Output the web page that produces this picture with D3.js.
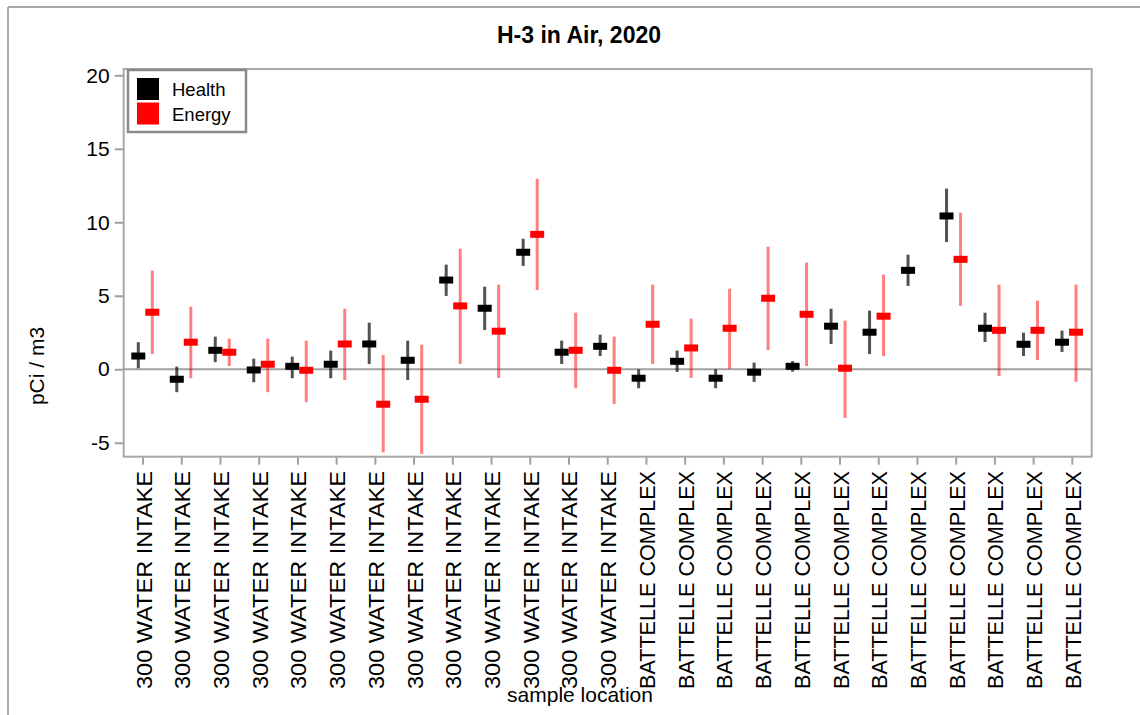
<html>
<head>
  <title>H-3 in Air, 2020</title>
  <script type="text/javascript" src="https://cdn.jsdelivr.net/npm/d3@7/dist/d3.min.js"></script>
<style type="text/css">
body { margin: 0; background: #fff; }
text { font-family: Arial, 'Liberation Sans', sans-serif; fill: #000; }
</style>
</head>
<body>
<script type="text/javascript">
// sample locations, one per column (13 + 12)
var locations = [
  '300 WATER INTAKE', '300 WATER INTAKE', '300 WATER INTAKE', '300 WATER INTAKE',
  '300 WATER INTAKE', '300 WATER INTAKE', '300 WATER INTAKE', '300 WATER INTAKE',
  '300 WATER INTAKE', '300 WATER INTAKE', '300 WATER INTAKE', '300 WATER INTAKE',
  '300 WATER INTAKE',
  'BATTELLE COMPLEX', 'BATTELLE COMPLEX', 'BATTELLE COMPLEX', 'BATTELLE COMPLEX',
  'BATTELLE COMPLEX', 'BATTELLE COMPLEX', 'BATTELLE COMPLEX', 'BATTELLE COMPLEX',
  'BATTELLE COMPLEX', 'BATTELLE COMPLEX', 'BATTELLE COMPLEX', 'BATTELLE COMPLEX'
];

// Health (black) result and its error range
var healthValue = [0.90, -0.68, 1.29, -0.05, 0.20, 0.34, 1.72, 0.61, 6.07, 4.15, 7.96, 1.16, 1.56,
                   -0.61, 0.54, -0.61, -0.20, 0.20, 2.93, 2.52, 6.73, 10.43, 2.79, 1.70, 1.84];
var healthLow   = [0.07, -1.56, 0.48, -0.88, -0.61, -0.61, 0.36, -0.73, 4.99, 2.67, 7.03, 0.36, 0.90,
                   -1.29, -0.18, -1.29, -0.86, -0.16, 1.72, 1.04, 5.67, 8.66, 1.86, 0.90, 1.18];
var healthHigh  = [1.84, 0.18, 2.22, 0.72, 0.86, 1.27, 3.17, 1.95, 7.12, 5.62, 8.88, 1.95, 2.35,
                   0.00, 1.27, 0.00, 0.45, 0.56, 4.12, 3.99, 7.80, 12.29, 3.85, 2.49, 2.63];

// Energy (red) result and its error range, null = no sample
var energyValue = [3.88, 1.84, 1.16, 0.34, -0.07, 1.72, -2.38, -2.04, 4.31, 2.59, 9.18, 1.29, -0.07,
                   3.06, 1.45, 2.79, 4.83, 3.74, 0.07, 3.61, null, 7.48, 2.65, 2.65, 2.52];
var energyLow   = [1.04, -0.61, 0.22, -1.56, -2.24, -0.73, -5.65, -5.76, 0.36, -0.59, 5.39, -1.29, -2.36,
                   0.36, -0.59, 0.02, 1.31, 0.22, -3.31, 0.90, null, 4.31, -0.46, 0.63, -0.86];
var energyHigh  = [6.71, 4.26, 2.08, 2.08, 1.95, 4.12, 0.97, 1.67, 8.20, 5.76, 12.97, 3.85, 2.22,
                   5.76, 3.44, 5.48, 8.34, 7.25, 3.31, 6.44, null, 10.65, 5.76, 4.67, 5.76];

var yTicks = [-5, 0, 5, 10, 15, 20];
var seriesNames = ['Health', 'Energy'];
var seriesColors = ['#000000', '#ff0000'];

var w = 1140, h = 715;
// note: "top" is taken by window.top, so plot edges get their own names
var plotL = 123.7, plotR = 1091.7, plotT = 69, plotB = 456.7;

var svg = d3.select('body').append('svg')
  .attr('width', w)
  .attr('height', h);

// outer frame (only left and top edges are in view)
svg.append('line').attr('x1', 8).attr('y1', 7).attr('x2', w).attr('y2', 7)
  .attr('stroke', '#a8a8a8').attr('stroke-width', 2);
svg.append('line').attr('x1', 8).attr('y1', 7).attr('x2', 8).attr('y2', h)
  .attr('stroke', '#a8a8a8').attr('stroke-width', 2);

var idx = d3.range(locations.length);

var x = d3.scaleBand().domain(idx).range([plotL, plotR]);
// the marks sit on a slightly narrower grid than the ticks
var xm = d3.scalePoint().domain(idx).range([145.3, 1069]);
var y = d3.scaleLinear().domain([-5.95, 20.43]).range([plotB, plotT]);

// y axis
var yAxis = svg.append('g')
  .attr('transform', 'translate(' + plotL + ',0)')
  .call(d3.axisLeft(y).tickValues(yTicks).tickSize(9).tickPadding(5)
    .tickFormat(function(d) { return String(d); }));
yAxis.select('.domain').remove();
yAxis.selectAll('line').attr('stroke', '#a0a0a0').attr('stroke-width', 2);
yAxis.selectAll('text').style('font-size', '21px').attr('fill', '#000');

// x axis
var xAxis = svg.append('g')
  .attr('transform', 'translate(0,' + plotB + ')')
  .call(d3.axisBottom(x).tickSize(8).tickFormat(''));
xAxis.select('.domain').remove();
xAxis.selectAll('line').attr('stroke', '#a0a0a0').attr('stroke-width', 2);

// rotated location labels, all stretched to the same length like the original
svg.append('g').selectAll('text')
  .data(idx)
  .enter()
  .append('text')
  .attr('transform', function(i) {
    return 'translate(' + (x(i) + x.bandwidth() / 2 + 8.5) + ',471) rotate(-90)';
  })
  .attr('text-anchor', 'end')
  .style('font-size', '22px')
  .attr('textLength', 218)
  .attr('lengthAdjust', 'spacingAndGlyphs')
  .text(function(i) { return locations[i]; });

// plot frame and zero line
svg.append('rect')
  .attr('x', plotL).attr('y', plotT)
  .attr('width', plotR - plotL).attr('height', plotB - plotT)
  .attr('fill', 'none').attr('stroke', '#a8a8a8').attr('stroke-width', 2);
svg.append('line')
  .attr('x1', plotL).attr('x2', plotR)
  .attr('y1', y(0)).attr('y2', y(0))
  .attr('stroke', '#a0a0a0').attr('stroke-width', 2);

function drawSeries(vals, lows, highs, dx, color, lineOpacity) {
  var ok = idx.filter(function(i) { return vals[i] != null; });
  var g = svg.append('g');
  g.selectAll('line')
    .data(ok)
    .enter()
    .append('line')
    .attr('x1', function(i) { return xm(i) + dx; })
    .attr('x2', function(i) { return xm(i) + dx; })
    .attr('y1', function(i) { return y(lows[i]); })
    .attr('y2', function(i) { return y(highs[i]); })
    .attr('stroke', color)
    .attr('stroke-opacity', lineOpacity)
    .attr('stroke-width', 3);
  g.selectAll('rect')
    .data(ok)
    .enter()
    .append('rect')
    .attr('x', function(i) { return xm(i) + dx - 7; })
    .attr('y', function(i) { return y(vals[i]) - 3.5; })
    .attr('width', 14)
    .attr('height', 7)
    .attr('fill', color);
}

drawSeries(healthValue, healthLow, healthHigh, -7, seriesColors[0], 0.68);
drawSeries(energyValue, energyLow, energyHigh, 7, seriesColors[1], 0.5);

// legend
var legend = svg.append('g');
legend.append('rect')
  .attr('x', 128).attr('y', 70).attr('width', 118).attr('height', 62)
  .attr('fill', '#fff').attr('stroke', '#8a8a8a').attr('stroke-width', 2.5);
legend.selectAll('.sw')
  .data(seriesNames)
  .enter()
  .append('rect')
  .attr('class', 'sw')
  .attr('x', 137)
  .attr('y', function(d, i) { return 78 + i * 24.5; })
  .attr('width', 22)
  .attr('height', 22)
  .attr('fill', function(d, i) { return seriesColors[i]; });
legend.selectAll('.lt')
  .data(seriesNames)
  .enter()
  .append('text')
  .attr('class', 'lt')
  .attr('x', 172)
  .attr('y', function(d, i) { return 96 + i * 24.5; })
  .style('font-size', '18.5px')
  .text(function(d) { return d; });

// titles
svg.append('text')
  .attr('x', 579).attr('y', 43)
  .attr('text-anchor', 'middle')
  .style('font-size', '23px').style('font-weight', 'bold')
  .text('H-3 in Air, 2020');

svg.append('text')
  .attr('transform', 'translate(44,366) rotate(-90)')
  .attr('text-anchor', 'middle')
  .style('font-size', '21px')
  .text('pCi / m3');

svg.append('text')
  .attr('x', 580).attr('y', 702)
  .attr('text-anchor', 'middle')
  .style('font-size', '21px')
  .text('sample location');

</script>
</body>
</html>
